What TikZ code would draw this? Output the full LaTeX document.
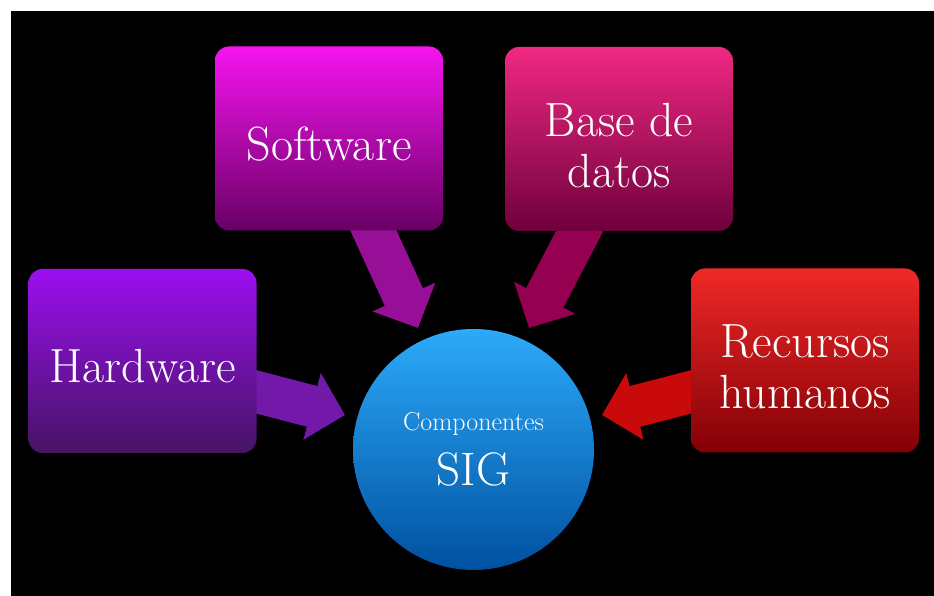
\documentclass[tikz,border=0pt]{standalone}
\usetikzlibrary{arrows.meta,backgrounds}

\definecolor{hwtop}{RGB}{155,15,240}
\definecolor{hwbot}{RGB}{70,20,100}
\definecolor{hwarrow}{RGB}{115,25,170}
\definecolor{swtop}{RGB}{245,20,240}
\definecolor{swbot}{RGB}{105,0,100}
\definecolor{swarrow}{RGB}{150,15,150}
\definecolor{dbtop}{RGB}{240,40,130}
\definecolor{dbbot}{RGB}{110,0,60}
\definecolor{dbarrow}{RGB}{150,0,80}
\definecolor{rhtop}{RGB}{240,40,40}
\definecolor{rhbot}{RGB}{130,0,5}
\definecolor{rharrow}{RGB}{200,10,10}
\definecolor{sigtop}{RGB}{45,170,250}
\definecolor{sigbot}{RGB}{0,80,160}

\tikzset{
  compbox/.style={rounded corners=14pt, minimum width=228pt, minimum height=184pt,
    inner sep=0pt, text=white, align=center, font=\fontsize{48}{51}\selectfont,
    text height=44pt, text depth=0pt},
  twolines/.style={text height=97pt, text depth=0pt},
  sigball/.style={circle, minimum size=241pt, inner sep=0pt, text=white,
    align=center, font=\fontsize{47}{55}\selectfont},
  feed/.style={line width=42pt, -{Triangle[length=34pt,width=67pt]}},
}

\begin{document}
\begin{tikzpicture}[x=1pt,y=1pt]
  \useasboundingbox (0,0) rectangle (934,596);

  % the components
  \node[compbox, top color=hwtop, bottom color=hwbot] (hardware) at (142.5,235) {Hardware};
  \node[compbox, top color=swtop, bottom color=swbot] (software) at (329,457.5) {Software};
  \node[compbox, twolines, top color=dbtop, bottom color=dbbot] (basedatos) at (619,457) {Base de\\datos};
  \node[compbox, twolines, top color=rhtop, bottom color=rhbot] (recursos) at (805,235.5) {Recursos\\humanos};

  % the centre
  \node[sigball, top color=sigtop, bottom color=sigbot] (sig) at (473.5,146.5)
    {{\fontsize{26}{30}\selectfont Componentes}\\SIG};

  % arrow ends
  \coordinate (hw-tail) at ([xshift=-19pt,yshift=-26pt]hardware.east);
  \coordinate (sw-tail) at ([xshift=36pt,yshift=18.5pt]software.south);
  \coordinate (db-tail) at ([xshift=-30pt,yshift=18pt]basedatos.south);
  \coordinate (rh-tail) at ([xshift=19pt,yshift=-26.5pt]recursos.west);
  \coordinate (hw-tip) at ([shift={(-128.5,34.5)}]sig.center);
  \coordinate (sw-tip) at ([shift={(-55.5,121.5)}]sig.center);
  \coordinate (db-tip) at ([shift={(55.5,121.5)}]sig.center);
  \coordinate (rh-tip) at ([shift={(128.5,34.5)}]sig.center);

  \begin{pgfonlayer}{background}
    \fill[white] (0,0) rectangle (934,596);
    \fill[black] (11,0) rectangle (934,585);
    % arrows run under the boxes
    \draw[feed, hwarrow] (hw-tail) -- (hw-tip);
    \draw[feed, swarrow] (sw-tail) -- (sw-tip);
    \draw[feed, dbarrow] (db-tail) -- (db-tip);
    \draw[feed, rharrow] (rh-tail) -- (rh-tip);
  \end{pgfonlayer}
\end{tikzpicture}
\end{document}
